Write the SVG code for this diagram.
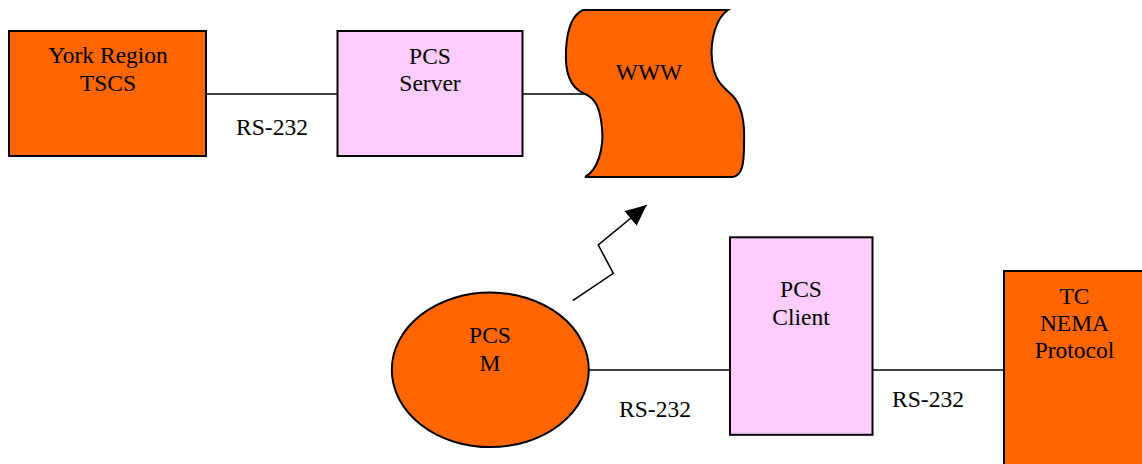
<svg xmlns="http://www.w3.org/2000/svg" width="1142" height="464" viewBox="0 0 1142 464">
<defs>
<marker id="ah" markerUnits="userSpaceOnUse" markerWidth="22" markerHeight="20" refX="21" refY="9.5" orient="auto">
<path d="M0,0 L21,9.5 L0,19 Z" fill="#000"/>
</marker>
<style>
.o{fill:#FF6600;stroke:#000;stroke-width:2}
.p{fill:#FFCCFF;stroke:#000;stroke-width:2}
.c{fill:none;stroke:#000;stroke-width:1.6}
text{font-family:"Liberation Serif","Times New Roman",serif;font-size:23.5px;fill:#000;text-anchor:middle}
</style>
</defs>
<g id="connectors">
<line class="c" x1="206" y1="94" x2="337" y2="94"/>
<line class="c" x1="523" y1="94" x2="587" y2="94"/>
<line class="c" x1="589" y1="370" x2="730" y2="370"/>
<line class="c" x1="873" y1="370" x2="1004" y2="370"/>
<polyline class="c" stroke-width="2" points="572.7,300.7 613.3,273.3 598.3,245 646.7,205" marker-end="url(#ah)"/>
<text x="272" y="135">RS-232</text>
<text x="655" y="417">RS-232</text>
<text x="928" y="407">RS-232</text>
</g>
<g id="york">
<rect class="o" x="9" y="31" width="197" height="125"/>
<text x="108" y="63.3">York Region</text>
<text x="108" y="90.7">TSCS</text>
</g>
<g id="server">
<rect class="p" x="337.5" y="31" width="185" height="125"/>
<text x="430" y="64">PCS</text>
<text x="430" y="91">Server</text>
</g>
<g id="www">
<path class="o" d="M583,10 L728,10 C716,18 710,40 712,60 C714,80 722,86 732,95 C742,105 745,125 744,145 C744,165 742,175 733,177 L585,177 C598,170 604,148 602,128 C600,108 596,98 583,93 C568,86 565,68 566,50 C567,30 572,15 583,10 Z"/>
<text x="649" y="80">WWW</text>
</g>
<g id="pcsm">
<ellipse class="o" cx="490.3" cy="369.8" rx="98.5" ry="77.3"/>
<text x="490" y="343.3">PCS</text>
<text x="490" y="370.7">M</text>
</g>
<g id="client">
<rect class="p" x="730" y="237.3" width="142.5" height="197.5"/>
<text x="801" y="296.7">PCS</text>
<text x="801" y="325">Client</text>
</g>
<g id="tc">
<rect class="o" x="1004" y="271" width="142" height="200"/>
<text x="1074.5" y="304">TC</text>
<text x="1074.5" y="331">NEMA</text>
<text x="1074.5" y="358">Protocol</text>
</g>
</svg>
